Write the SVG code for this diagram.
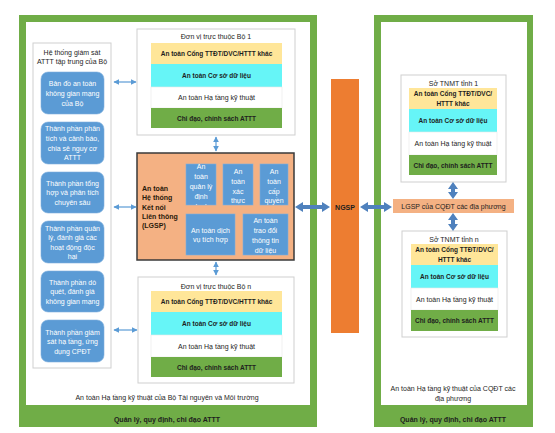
<svg xmlns="http://www.w3.org/2000/svg" width="555" height="433" viewBox="0 0 555 433">
<style>
text{font-family:"Liberation Sans",Arial,sans-serif;font-size:7px;fill:#1e1e1e;text-anchor:middle}
.frame{fill:#70ad47}
.inner{fill:#fff}
.panel{fill:#fff;stroke:#cfcfcf;stroke-width:1}
.yel{fill:#ffe699}
.cya{fill:#66f5f7}
.wht{fill:#fff;stroke:#e8e8e8;stroke-width:0.6}
.grn{fill:#70ad47}
.b{font-weight:bold;font-size:6.5px}
.blue{fill:#5b9bd5;stroke:#7fb0de;stroke-width:0.6}
.wt{fill:#fff}
.lg{font-weight:bold;text-anchor:start;fill:#2a1a0a}
.thin{stroke:#5b9bd5;stroke-width:1.2;fill:none;marker-start:url(#ah);marker-end:url(#ah)}
.thick{fill:#4f81bd}
</style>
<defs>
<marker id="ah" viewBox="0 0 10 10" refX="9" refY="5" markerWidth="5" markerHeight="5" orient="auto-start-reverse" markerUnits="strokeWidth">
<path d="M0,0 L10,5 L0,10 z" fill="#5b9bd5"/>
</marker>
<clipPath id="ca"><rect x="186" y="164" width="30" height="41"/></clipPath>
</defs>

<g id="left-frame">
<rect class="frame" x="19" y="15" width="298" height="412"/>
<rect class="inner" x="26" y="22" width="284" height="383"/>
<text x="167" y="399.5">An toàn Hạ tầng kỹ thuật của Bộ Tài nguyên và Môi trường</text>
<text x="167" y="421.5" font-weight="bold">Quản lý, quy định, chỉ đạo ATTT</text>
</g>

<g id="right-frame">
<rect class="frame" x="374" y="15" width="159" height="412"/>
<rect class="inner" x="381" y="22" width="146" height="383"/>
<text x="453" y="390.5">An toàn Hạ tầng kỹ thuật của CQĐT các</text>
<text x="453" y="400.5">địa phương</text>
<text x="453" y="421.5" font-weight="bold">Quản lý, quy định, chỉ đạo ATTT</text>
</g>

<g id="monitor-panel">
<rect class="panel" x="33" y="43" width="78" height="325"/>
<text x="72" y="54.5">Hệ thống giám sát</text>
<text x="72" y="63.5">ATTT tập trung của Bộ</text>
</g>
<g id="m1">
<rect class="blue" x="41" y="72" width="63" height="42" rx="7"/>
<text class="wt" x="72.5" y="86">Bản đồ an toàn</text>
<text class="wt" x="72.5" y="96">không gian mạng</text>
<text class="wt" x="72.5" y="106">của Bộ</text>
</g>
<g id="m2">
<rect class="blue" x="41" y="122" width="63" height="42" rx="7"/>
<text class="wt" x="72.5" y="131">Thành phần phân</text>
<text class="wt" x="72.5" y="141">tích và cảnh báo,</text>
<text class="wt" x="72.5" y="150.5">chia sẻ nguy cơ</text>
<text class="wt" x="72.5" y="160">ATTT</text>
</g>
<g id="m3">
<rect class="blue" x="41" y="172" width="63" height="41" rx="7"/>
<text class="wt" x="72.5" y="185.5">Thành phần tổng</text>
<text class="wt" x="72.5" y="195">hợp và phân tích</text>
<text class="wt" x="72.5" y="204.5">chuyên sâu</text>
</g>
<g id="m4">
<rect class="blue" x="41" y="221" width="63" height="42" rx="7"/>
<text class="wt" x="72.5" y="230.5">Thành phần quản</text>
<text class="wt" x="72.5" y="240">lý, đánh giá các</text>
<text class="wt" x="72.5" y="249.5">hoạt động độc</text>
<text class="wt" x="72.5" y="259">hại</text>
</g>
<g id="m5">
<rect class="blue" x="41" y="271" width="63" height="41" rx="7"/>
<text class="wt" x="72.5" y="284.5">Thành phần dò</text>
<text class="wt" x="72.5" y="294">quét, đánh giá</text>
<text class="wt" x="72.5" y="303.5">không gian mạng</text>
</g>
<g id="m6">
<rect class="blue" x="41" y="320" width="63" height="42" rx="7"/>
<text class="wt" x="72.5" y="334.5">Thành phần giám</text>
<text class="wt" x="72.5" y="344">sát hạ tầng, ứng</text>
<text class="wt" x="72.5" y="353.5">dụng CPĐT</text>
</g>

<g id="unit1">
<rect class="panel" x="137" y="29" width="158" height="106"/>
<text x="216" y="38.5">Đơn vị trực thuộc Bộ 1</text>
<rect class="yel" x="151" y="43" width="131" height="21"/>
<rect class="cya" x="151" y="64" width="131" height="23"/>
<rect class="wht" x="151" y="87" width="131" height="21"/>
<rect class="grn" x="151" y="108" width="131" height="20"/>
<text class="b" x="216.5" y="56">An toàn Cổng TTĐT/DVC/HTTT khác</text>
<text class="b" x="216.5" y="78">An toàn Cơ sở dữ liệu</text>
<text x="216.5" y="100">An toàn Hạ tầng kỹ thuật</text>
<text class="b" x="216.5" y="120.5">Chỉ đạo, chính sách ATTT</text>
</g>

<g id="unitn">
<rect class="panel" x="138" y="277" width="156" height="106"/>
<text x="216" y="288.5">Đơn vị trực thuộc Bộ n</text>
<rect class="yel" x="151" y="291" width="131" height="21"/>
<rect class="cya" x="151" y="312" width="131" height="23"/>
<rect class="wht" x="151" y="335" width="131" height="22"/>
<rect class="grn" x="151" y="357" width="131" height="20"/>
<text class="b" x="216.5" y="304">An toàn Cổng TTĐT/DVC/HTTT khác</text>
<text class="b" x="216.5" y="326">An toàn Cơ sở dữ liệu</text>
<text x="216.5" y="348.5">An toàn Hạ tầng kỹ thuật</text>
<text class="b" x="216.5" y="369.5">Chỉ đạo, chính sách ATTT</text>
</g>

<g id="lgsp">
<rect x="137" y="153" width="157" height="107" fill="#f4b183" stroke="#3a3a3a" stroke-width="1.5"/>
<text class="lg" x="142" y="190.5">An toàn</text>
<text class="lg" x="142" y="200">Hệ thống</text>
<text class="lg" x="142" y="209.5">Kết nối</text>
<text class="lg" x="142" y="219">Liên thông</text>
<text class="lg" x="142" y="228">(LGSP)</text>
</g>
<g id="lgsp-a">
<rect class="blue" x="186" y="164" width="30" height="41"/>
<g clip-path="url(#ca)">
<text class="wt" x="201" y="168.5">An</text>
<text class="wt" x="201" y="178.5">toàn</text>
<text class="wt" x="201" y="188.5">quản lý</text>
<text class="wt" x="201" y="198.5">định</text>
<text class="wt" x="201" y="208.5">danh</text>
</g>
</g>
<g id="lgsp-b">
<rect class="blue" x="223" y="164" width="30" height="41"/>
<text class="wt" x="238" y="173.5">An</text>
<text class="wt" x="238" y="183.5">toàn</text>
<text class="wt" x="238" y="193.5">xác</text>
<text class="wt" x="238" y="202.5">thực</text>
</g>
<g id="lgsp-c">
<rect class="blue" x="260" y="164" width="28" height="41"/>
<text class="wt" x="274" y="173.5">An</text>
<text class="wt" x="274" y="183.5">toàn</text>
<text class="wt" x="274" y="193.5">cấp</text>
<text class="wt" x="274" y="202.5">quyền</text>
</g>
<g id="lgsp-d">
<rect class="blue" x="186" y="214" width="49" height="41"/>
<text class="wt" x="210.5" y="232.5">An toàn dịch</text>
<text class="wt" x="210.5" y="242">vụ tích hợp</text>
</g>
<g id="lgsp-e">
<rect class="blue" x="243" y="214" width="45" height="41"/>
<text class="wt" x="265.5" y="222.5">An toàn</text>
<text class="wt" x="265.5" y="232.5">trao đổi</text>
<text class="wt" x="265.5" y="242.5">thông tin</text>
<text class="wt" x="265.5" y="252.5">dữ liệu</text>
</g>

<g id="ngsp">
<rect x="331" y="79" width="28" height="254" fill="#ed7d31"/>
<text x="345" y="209.5" font-weight="bold" fill="#2a1205">NGSP</text>
</g>

<g id="lgsp-local">
<rect x="393" y="199" width="121" height="14" fill="#f4b183"/>
<text x="453.5" y="208.5">LGSP của CQĐT các địa phương</text>
</g>

<g id="so1">
<rect class="panel" x="401" y="75" width="105" height="107"/>
<text x="453.5" y="85.5">Sở TNMT tỉnh 1</text>
<rect class="yel" x="409" y="88" width="88" height="21"/>
<rect class="cya" x="409" y="109" width="88" height="23"/>
<rect class="wht" x="409" y="132" width="88" height="23"/>
<rect class="grn" x="409" y="155" width="88" height="20"/>
<text class="b" x="453" y="95.5">An toàn Cổng TTĐT/DVC/</text>
<text class="b" x="453" y="105.5">HTTT khác</text>
<text class="b" x="453" y="123">An toàn Cơ sở dữ liệu</text>
<text x="453" y="146">An toàn Hạ tầng kỹ thuật</text>
<text class="b" x="453" y="167.5">Chỉ đạo, chính sách ATTT</text>
</g>

<g id="son">
<rect class="panel" x="402" y="231" width="105" height="106"/>
<text x="454" y="241.5">Sở TNMT tỉnh n</text>
<rect class="yel" x="411" y="244" width="87" height="21"/>
<rect class="cya" x="411" y="265" width="87" height="23"/>
<rect class="wht" x="411" y="288" width="87" height="22"/>
<rect class="grn" x="411" y="310" width="87" height="21"/>
<text class="b" x="454.5" y="251.5">An toàn Cổng TTĐT/DVC/</text>
<text class="b" x="454.5" y="261.5">HTTT khác</text>
<text class="b" x="454.5" y="279">An toàn Cơ sở dữ liệu</text>
<text x="454.5" y="301.5">An toàn Hạ tầng kỹ thuật</text>
<text class="b" x="454.5" y="323">Chỉ đạo, chính sách ATTT</text>
</g>

<g id="connectors">
<line class="thin" x1="114" y1="82" x2="136" y2="82"/>
<line class="thin" x1="114" y1="207" x2="136" y2="207"/>
<line class="thin" x1="114" y1="330" x2="137" y2="330"/>
<line class="thin" x1="216" y1="137" x2="216" y2="151"/>
<line class="thin" x1="216" y1="262" x2="216" y2="275"/>
<polygon class="thick" points="295,207 303,202 303,205 322,205 322,202 330,207 322,212 322,209 303,209 303,212"/>
<polygon class="thick" points="360,207 368,202 368,205 384,205 384,202 392,207 384,212 384,209 368,209 368,212"/>
<polygon class="thick" points="453,182 458,189 455,189 455,192 458,192 453,199 448,192 451,192 451,189 448,189"/>
<polygon class="thick" points="453,213 458,220 455,220 455,224 458,224 453,231 448,224 451,224 451,220 448,220"/>
</g>
</svg>
